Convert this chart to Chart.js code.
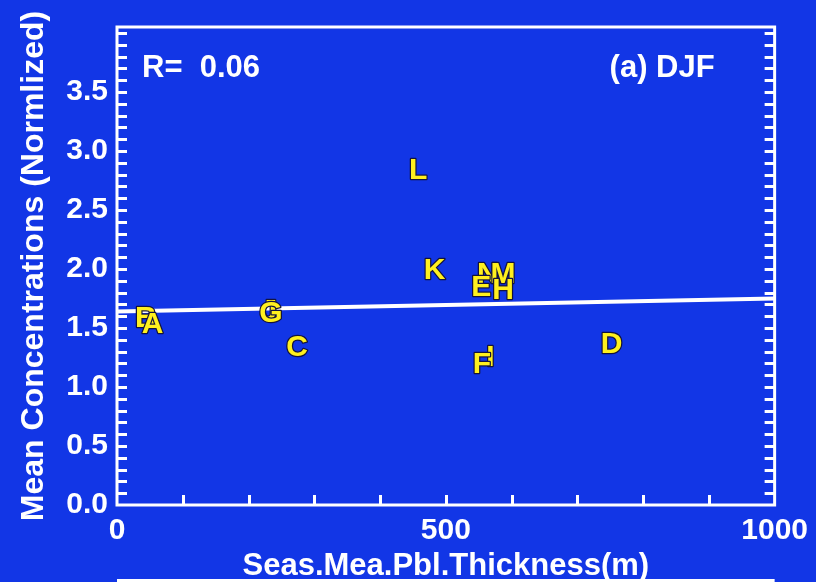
<!DOCTYPE html>
<html>
<head>
<meta charset="utf-8">
<script src="https://cdn.jsdelivr.net/npm/chart.js@4.4.1/dist/chart.umd.min.js"></script>
<style>
  html, body { margin: 0; padding: 0; background: #1236e6; }
  #wrap { width: 816px; height: 582px; }
  canvas { display: block; }
</style>
</head>
<body>
<div id="wrap"><canvas id="chart" width="816" height="582"></canvas></div>
<script>
// Site letters with seasonal mean PBL thickness (m) and normalized mean concentration
const siteLabels   = ['A', 'B', 'C', 'D', 'E', 'F', 'G', 'H', 'I', 'J', 'K', 'L', 'M', 'N'];
const pblThickness = [54, 44, 274, 752, 554, 555, 234, 587, 568, 231, 483, 458, 587, 564];
const meanConc     = [1.54, 1.59, 1.34, 1.37, 1.85, 1.20, 1.63, 1.82, 1.26, 1.65, 1.99, 2.84, 1.96, 1.96];

// Least-squares fit line end points
const fitX = [0, 1000];
const fitY = [1.64, 1.75];

// Axis tick labels
const xTickValues = [0, 500, 1000];
const xTickLabels = ['0', '500', '1000'];
const yTickValues = [0, 0.5, 1.0, 1.5, 2.0, 2.5, 3.0, 3.5];
const yTickLabels = ['0.0', '0.5', '1.0', '1.5', '2.0', '2.5', '3.0', '3.5'];

const corrText  = 'R=  0.06';
const panelText = '(a) DJF';

const BG = '#1236e6';
const WHITE = '#ffffff';
const YELLOW = '#fff01e';
const BOLD = 'bold';
const FONT = "'Liberation Sans', Arial, Helvetica, sans-serif";

const idlFrame = {
  id: 'idlFrame',
  beforeDraw(chart) {
    const ctx = chart.ctx;
    ctx.save();
    ctx.fillStyle = BG;
    ctx.fillRect(0, 0, chart.width, chart.height);
    ctx.restore();
  },
  afterDatasetsDraw(chart) {
    // site letters drawn at each scatter point; earlier letters end up on top
    const ctx = chart.ctx;
    const meta = chart.getDatasetMeta(1);
    ctx.save();
    ctx.font = BOLD + ' 30px ' + FONT;
    ctx.textAlign = 'center';
    ctx.textBaseline = 'middle';
    ctx.lineJoin = 'round';
    for (let i = meta.data.length - 1; i >= 0; i--) {
      const pt = meta.data[i];
      ctx.lineWidth = 2.5;
      ctx.strokeStyle = '#14143c';
      ctx.strokeText(siteLabels[i], pt.x, pt.y + 1);
      ctx.fillStyle = YELLOW;
      ctx.fillText(siteLabels[i], pt.x, pt.y + 1);
    }
    ctx.restore();
  },
  afterDraw(chart) {
    const ctx = chart.ctx;
    const a = chart.chartArea;
    const xs = chart.scales.x, ys = chart.scales.y;
    ctx.save();
    ctx.strokeStyle = WHITE;
    ctx.lineWidth = 3;
    ctx.strokeRect(a.left, a.top, a.right - a.left, a.bottom - a.top);

    // inward minor ticks on the left and right axes, every 0.1
    ctx.beginPath();
    for (let k = 1; k <= 40; k++) {
      const py = Math.round(ys.getPixelForValue(k / 10)) + 0.5;
      if (py <= a.top + 2) continue;
      ctx.moveTo(a.left, py); ctx.lineTo(a.left + 10, py);
      ctx.moveTo(a.right, py); ctx.lineTo(a.right - 10, py);
    }
    // inward ticks on the bottom axis, every 100 m
    for (let k = 1; k < 10; k++) {
      const px = Math.round(xs.getPixelForValue(k * 100)) + 0.5;
      ctx.moveTo(px, a.bottom); ctx.lineTo(px, a.bottom - 10);
    }
    ctx.stroke();

    // annotations inside the plot
    ctx.fillStyle = WHITE;
    ctx.font = BOLD + ' 31px ' + FONT;
    ctx.textBaseline = 'middle';
    ctx.textAlign = 'left';
    ctx.fillText(corrText, a.left + 25, 68);
    ctx.textAlign = 'right';
    ctx.fillText(panelText, a.right - 60, 68);

    // top edge of the next panel below
    ctx.beginPath();
    ctx.moveTo(a.left, 580.5); ctx.lineTo(a.right, 580.5);
    ctx.stroke();
    ctx.restore();
  }
};

new Chart(document.getElementById('chart'), {
  type: 'scatter',
  data: {
    datasets: [
      {
        type: 'line',
        data: fitX.map((x, i) => ({ x: x, y: fitY[i] })),
        borderColor: WHITE,
        borderWidth: 4,
        pointRadius: 0,
        fill: false
      },
      {
        data: pblThickness.map((x, i) => ({ x: x, y: meanConc[i] })),
        pointRadius: 0,
        pointHoverRadius: 0
      }
    ]
  },
  options: {
    responsive: false,
    devicePixelRatio: 1,
    animation: false,
    events: [],
    layout: { padding: { top: 24, right: 37, left: 0, bottom: 0 } },
    plugins: { legend: { display: false }, tooltip: { enabled: false } },
    scales: {
      x: {
        type: 'linear',
        min: 0, max: 1000,
        afterBuildTicks: s => { s.ticks = xTickValues.map(v => ({ value: v })); },
        afterFit: s => { s.height = 77; },
        grid: { display: false, drawTicks: false },
        border: { display: false },
        ticks: {
          autoSkip: false, maxRotation: 0, padding: 8,
          color: WHITE,
          font: { family: FONT, size: 30, weight: BOLD },
          callback: (v, i) => xTickLabels[i]
        },
        title: {
          display: true,
          text: 'Seas.Mea.Pbl.Thickness(m)',
          color: WHITE,
          font: { family: FONT, size: 31, weight: BOLD },
          padding: { top: 0, bottom: -3 }
        }
      },
      y: {
        type: 'linear',
        min: 0, max: 4.05,
        afterBuildTicks: s => { s.ticks = yTickValues.map(v => ({ value: v })); },
        afterFit: s => { s.width = 117; },
        grid: { display: false, drawTicks: false },
        border: { display: false },
        ticks: {
          autoSkip: false, padding: 9,
          color: WHITE,
          font: { family: FONT, size: 30, weight: BOLD },
          callback: (v, i) => yTickLabels[i]
        },
        title: {
          display: true,
          text: 'Mean Concentrations (Normlized)',
          color: WHITE,
          font: { family: FONT, size: 32, weight: BOLD },
          padding: { top: 15, bottom: 0 }
        }
      }
    }
  },
  plugins: [idlFrame]
});
</script>
</body>
</html>
